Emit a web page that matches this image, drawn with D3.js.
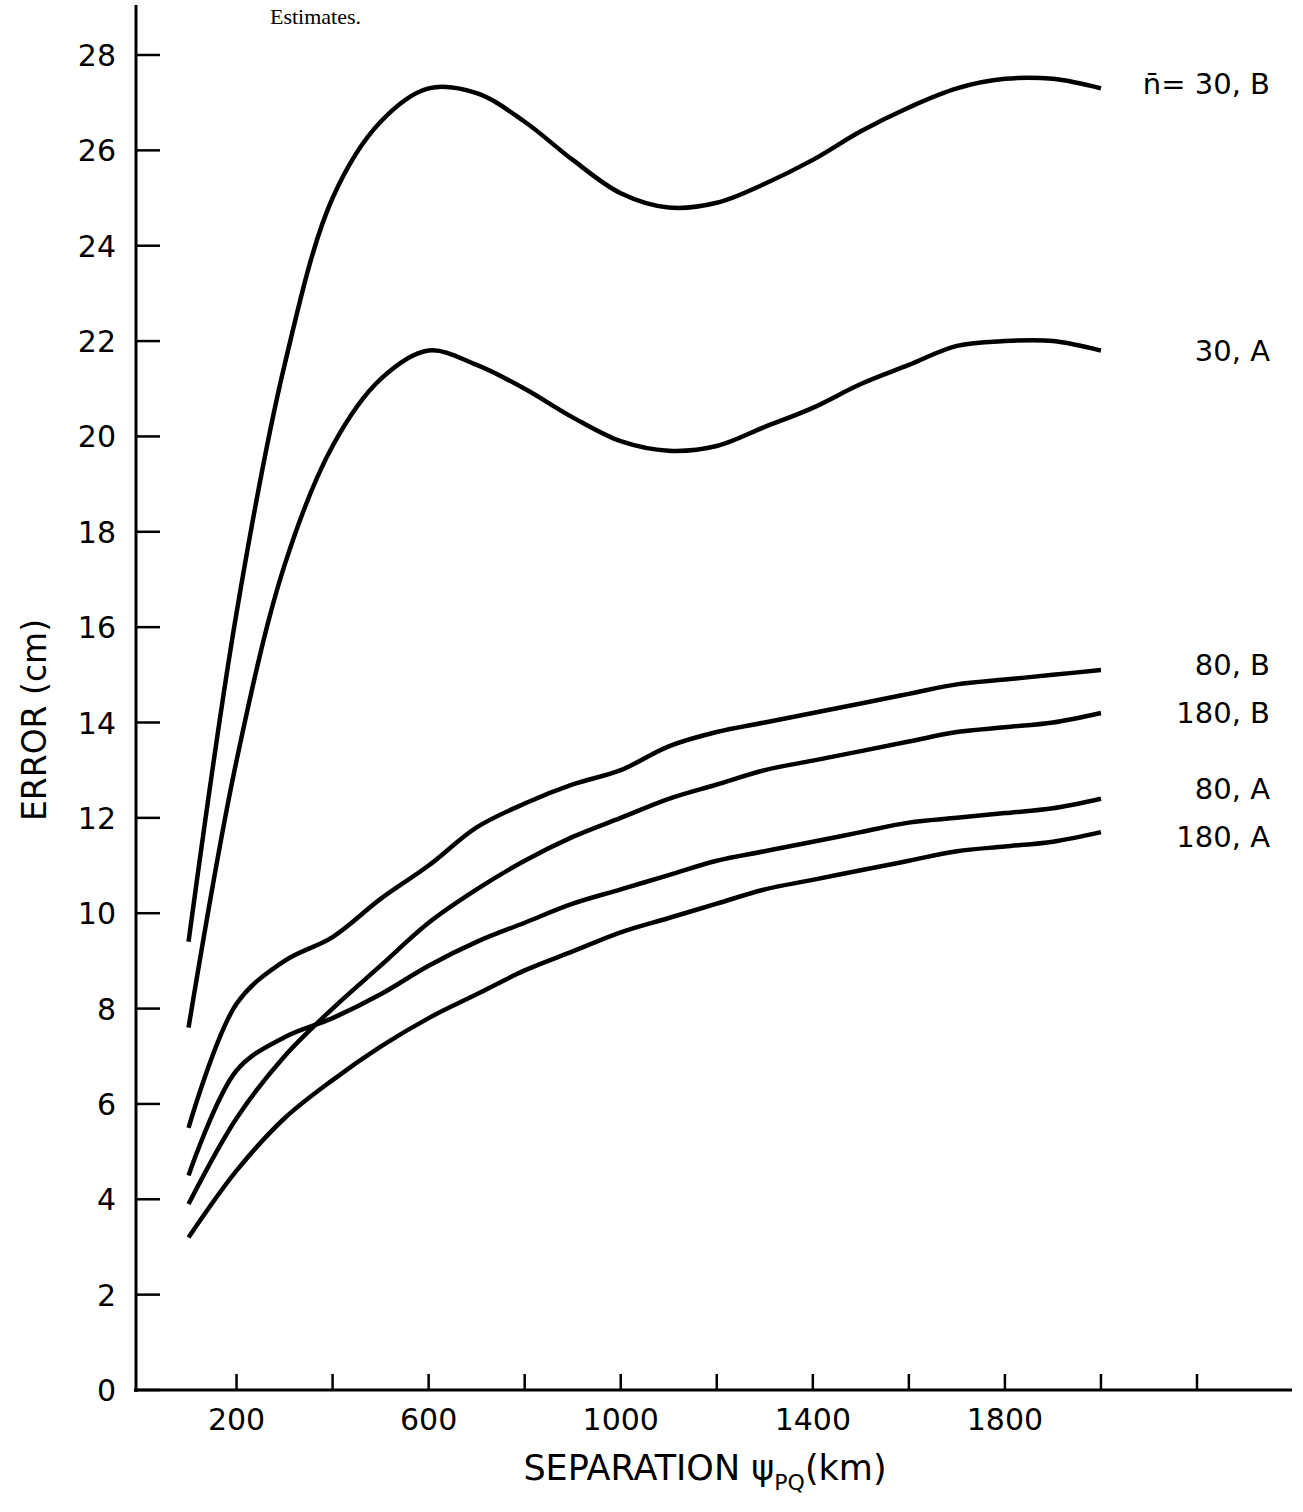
<!DOCTYPE html>
<html><head><meta charset="utf-8">
<script src="https://cdn.jsdelivr.net/npm/d3@7"></script>
<style>body{margin:0;background:#fff}svg{display:block}</style>
</head><body>
<svg id="c" width="1303" height="1512"></svg>
<script>
const xs = [100,200,300,400,500,600,700,800,900,1000,1100,1200,1300,1400,1500,1600,1700,1800,1900,2000];
const s30B = [9.4,16.3,21.5,25.0,26.6,27.3,27.2,26.6,25.8,25.1,24.8,24.9,25.3,25.8,26.4,26.9,27.3,27.5,27.5,27.3];
const s30A = [7.6,13.2,17.3,19.8,21.2,21.8,21.5,21.0,20.4,19.9,19.7,19.8,20.2,20.6,21.1,21.5,21.9,22.0,22.0,21.8];
const s80B = [5.5,8.1,9.0,9.5,10.3,11.0,11.8,12.3,12.7,13.0,13.5,13.8,14.0,14.2,14.4,14.6,14.8,14.9,15.0,15.1];
const s180B = [3.9,5.7,7.0,8.0,8.9,9.8,10.5,11.1,11.6,12.0,12.4,12.7,13.0,13.2,13.4,13.6,13.8,13.9,14.0,14.2];
const s80A = [4.5,6.7,7.4,7.8,8.3,8.9,9.4,9.8,10.2,10.5,10.8,11.1,11.3,11.5,11.7,11.9,12.0,12.1,12.2,12.4];
const s180A = [3.2,4.6,5.7,6.5,7.2,7.8,8.3,8.8,9.2,9.6,9.9,10.2,10.5,10.7,10.9,11.1,11.3,11.4,11.5,11.7];
const series = [s30B,s30A,s80B,s180B,s80A,s180A];
const labels = ["n̄= 30, B","30, A","80, B","180, B","80, A","180, A"];
const labelVals = [27.4,21.8,15.2,14.2,12.6,11.6];
const yTicks = d3.range(0,29,2);
const xTicks = d3.range(200,2201,200);
const xLabels = [200,600,1000,1400,1800];

const svg = d3.select("#c");
const x = d3.scaleLinear().domain([0,2200]).range([140.5,1197]);
const y = d3.scaleLinear().domain([0,28]).range([1390,55]);
const font = "'DejaVu Sans', sans-serif";

svg.append("text").attr("x",270).attr("y",24).attr("font-family","'Liberation Serif',serif").attr("font-size",22).text("Estimates.");

svg.append("line").attr("x1",136).attr("x2",136).attr("y1",5).attr("y2",1392).attr("stroke","#000").attr("stroke-width",3);
svg.append("line").attr("x1",134).attr("x2",1292).attr("y1",1390).attr("y2",1390).attr("stroke","#000").attr("stroke-width",3);

yTicks.forEach(t=>{
  svg.append("line").attr("x1",136).attr("x2",160).attr("y1",y(t)).attr("y2",y(t)).attr("stroke","#000").attr("stroke-width",2.5);
  svg.append("text").attr("x",116).attr("y",y(t)+11).attr("text-anchor","end").attr("font-family",font).attr("font-size",30).text(t);
});
xTicks.forEach(t=>{
  svg.append("line").attr("x1",x(t)).attr("x2",x(t)).attr("y1",1390).attr("y2",1374).attr("stroke","#000").attr("stroke-width",2.5);
});
xLabels.forEach(t=>{
  svg.append("text").attr("x",x(t)).attr("y",1430).attr("text-anchor","middle").attr("font-family",font).attr("font-size",30).text(t);
});

const line = d3.line().x((d,i)=>x(xs[i])).y(d=>y(d)).curve(d3.curveCatmullRom.alpha(0.5));
series.forEach(s=>{
  svg.append("path").attr("d",line(s)).attr("fill","none").attr("stroke","#000").attr("stroke-width",4.5).attr("stroke-linejoin","round");
});
labels.forEach((l,i)=>{
  svg.append("text").attr("x",1270).attr("y",y(labelVals[i])+10).attr("text-anchor","end").attr("font-family",font).attr("font-size",29).text(l);
});

svg.append("text").attr("transform","translate(46,720) rotate(-90)").attr("text-anchor","middle").attr("font-family",font).attr("font-size",33).text("ERROR (cm)");
const xt = svg.append("text").attr("x",705).attr("y",1480).attr("text-anchor","middle").attr("font-family",font).attr("font-size",35);
xt.append("tspan").text("SEPARATION ψ");
xt.append("tspan").attr("font-size",22).attr("dy",10).text("PQ");
xt.append("tspan").attr("dy",-10).text("(km)");
</script>
</body></html>
